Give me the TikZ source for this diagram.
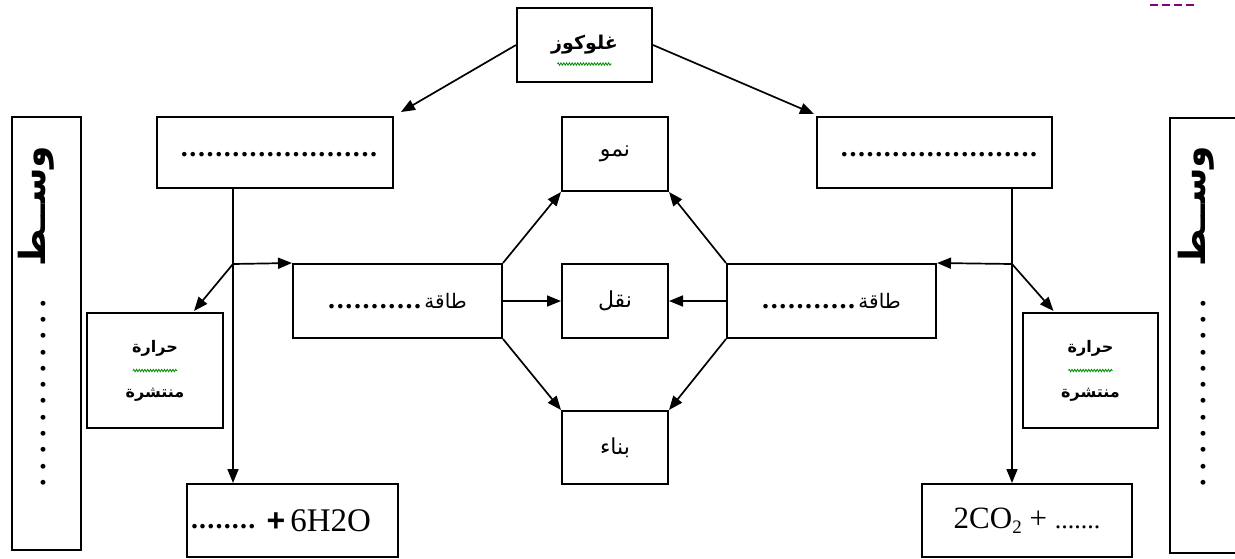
\documentclass[tikz,border=0pt]{standalone}
\usepackage{fontspec}
\setmainfont{Liberation Serif}
\setsansfont{Liberation Sans}
\newfontfamily\ar[Script=Arabic]{DejaVu Sans}
\TeXXeTstate=1
\usetikzlibrary{arrows.meta,decorations.pathmorphing}
\newcommand\dts[3]{{\bfseries\fontsize{#2}{#2}\selectfont\foreach\i in {1,...,#1}{.\hspace{#3}}}}
\tikzset{
  box/.style={draw, line width=2pt, rectangle, inner sep=0pt},
  arr/.style={line width=1.7pt, -{Triangle[length=14pt,width=11pt]}},
  squig/.style={draw=green!55!black, line width=0.8pt, decorate,
    decoration={zigzag, amplitude=1.2pt, segment length=2.8pt}},
  artext/.style={font=\ar\fontsize{22}{24}\selectfont},
}
\begin{document}
\begin{tikzpicture}[x=1pt,y=-1pt]
\useasboundingbox (0,0) rectangle (1235,558);
% boxes
\node[box, minimum width=135, minimum height=74, font=\ar\bfseries\fontsize{19}{22}\selectfont] (gl) at (584.5,45) {\beginR غلوكوز\endR};
\draw[squig] ([xshift=-27,yshift=-19]gl.center) -- ([xshift=27,yshift=-19]gl.center);

\node[box, minimum width=236, minimum height=71] (lt) at (275,152.5) {};
\node (ltt) at (279,155) {\dts{23}{28}{1.6pt}};
\node[box, minimum width=235, minimum height=71] (rt) at (934.5,152.5) {};
\node (rtt) at (939,155) {\dts{23}{28}{1.6pt}};

\node[box, minimum width=69, minimum height=433] (lv) at (46.5,333.5) {};
\node[rotate=90, anchor=west] (lvt) at (36,490) {\dts{12}{30}{8.8pt}\hspace{24pt}{\ar\bfseries\fontsize{36}{36}\selectfont\beginR وســط\endR}};
\node[box, minimum width=69, minimum height=435] (rv) at (1204.5,335.5) {};
\node[rotate=90, anchor=west] (rvt) at (1196,490) {\dts{12}{30}{8.8pt}\hspace{24pt}{\ar\bfseries\fontsize{36}{36}\selectfont\beginR وســط\endR}};

\node[box, minimum width=136, minimum height=115, align=center, font=\ar\bfseries\fontsize{16}{45}\selectfont] (lh) at (155,370.5) {\beginR حرارة\endR\\\beginR منتشرة\endR};
\draw[squig] ([xshift=-22]lh.center) -- ([xshift=22]lh.center);
\node[box, minimum width=135, minimum height=115, align=center, font=\ar\bfseries\fontsize{16}{45}\selectfont] (rh) at (1090.5,370.5) {\beginR حرارة\endR\\\beginR منتشرة\endR};
\draw[squig] ([xshift=-22]rh.center) -- ([xshift=22]rh.center);

\node[box, minimum width=209, minimum height=74] (le) at (397.5,301) {\dts{11}{28}{1.6pt}\,{\ar\fontsize{20}{22}\selectfont\beginR طاقة\endR}};
\node[box, minimum width=106, minimum height=74, artext] (nq) at (615,301) {\beginR نقل\endR};
\node[box, minimum width=209, minimum height=74] (re) at (831.5,301) {\dts{11}{28}{1.6pt}\,{\ar\fontsize{20}{22}\selectfont\beginR طاقة\endR}};
\node[box, minimum width=106, minimum height=74, artext] (nm) at (615,154) {\beginR نمو\endR};
\node[box, minimum width=106, minimum height=73, artext] (bn) at (615,447.5) {\beginR بناء\endR};

\node[box, minimum width=211, minimum height=73, text width=203pt, align=left] (bl) at (292.5,520.5)
  {\raisebox{3pt}{\dts{8}{28}{1.2pt}}\hspace{10pt}{\sffamily\bfseries\fontsize{32}{32}\selectfont +}\hspace{5pt}{\fontsize{33}{33}\selectfont 6H2O}};
\node[box, minimum width=210, minimum height=73, font=\fontsize{31}{31}\selectfont] (br) at (1027,520.5)
  {2CO\raisebox{-5pt}{\fontsize{19}{19}\selectfont 2} + {\fontsize{26}{26}\selectfont .......}};

% connectors
\draw[arr] (gl.west) -- ([shift={(7,-4)}]lt.north east);
\draw[arr] (gl.east) -- ([shift={(-2,-2)}]rt.north west);

\coordinate (lj) at (233,264);
\coordinate (rj) at (1012,264);
\draw[arr] (lt.south -| lj) -- (bl.north -| lj);
\draw[arr] (lj) -- (le.north west);
\draw[arr] (lj) -- ([xshift=39,yshift=1]lh.north);
\draw[arr] (rt.south -| rj) -- (br.north -| rj);
\draw[arr] (rj) -- (re.north east);
\draw[arr] (rj) -- ([xshift=-37,yshift=1]rh.north);

\draw[arr] (le.north east) -- (nm.south west);
\draw[arr] (le.east) -- (nq.west);
\draw[arr] (le.south east) -- (bn.north west);
\draw[arr] (re.north west) -- (nm.south east);
\draw[arr] (re.west) -- (nq.east);
\draw[arr] (re.south west) -- (bn.north east);

\draw[purple!70!blue, line width=1.2pt, dash pattern=on 8pt off 4pt] (1150,5) -- (1196,5);
\end{tikzpicture}
\end{document}
